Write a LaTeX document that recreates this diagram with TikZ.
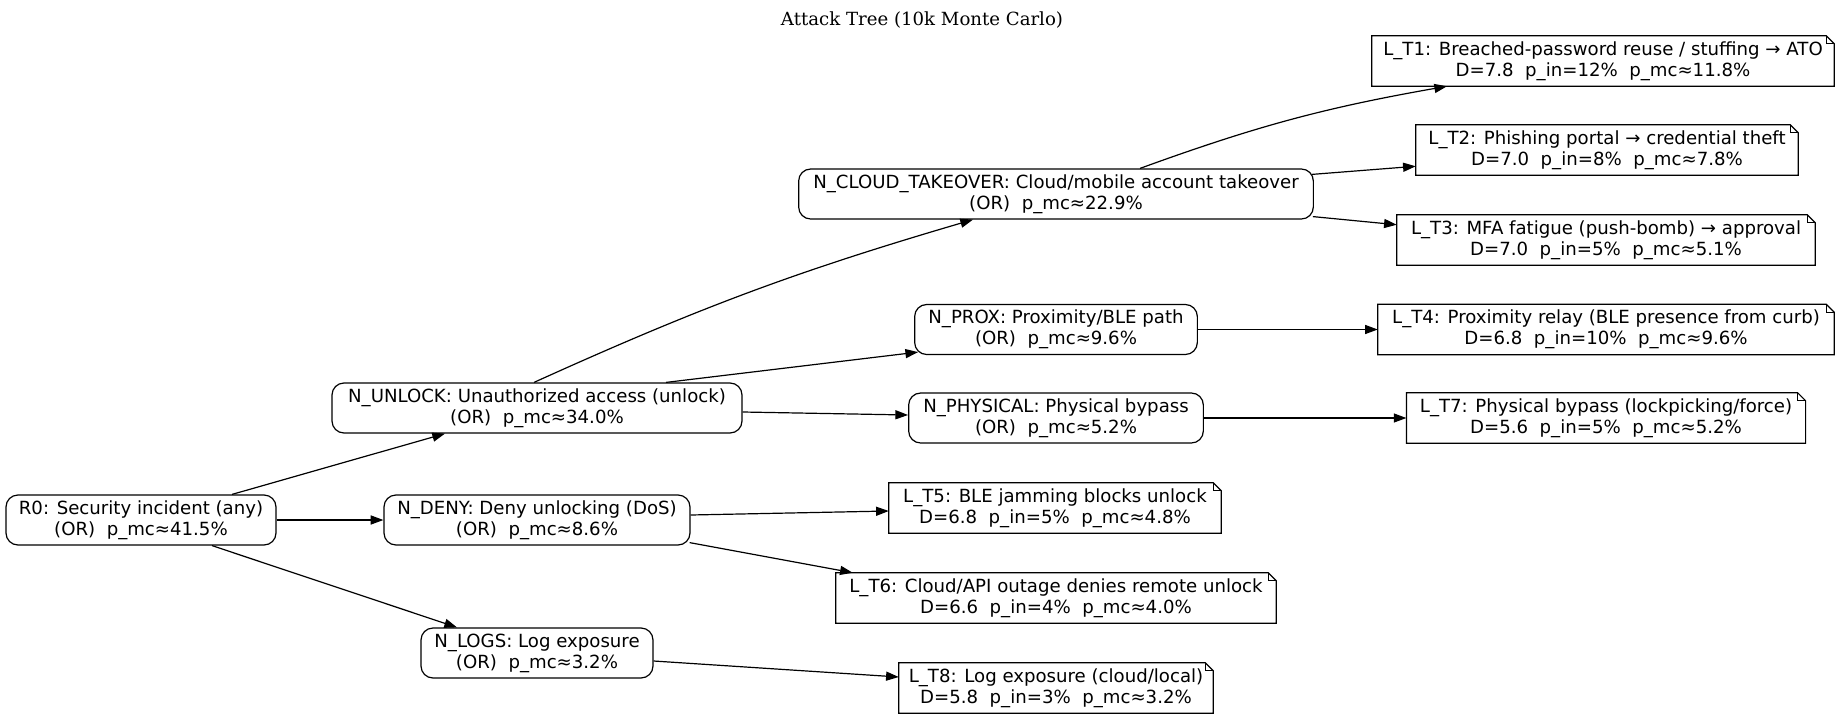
\documentclass[tikz,border=0pt]{standalone}
\usepackage{fontspec}
\setmainfont{DejaVu Sans}
\newfontfamily\titlefont{DejaVu Serif}
\usetikzlibrary{calc,arrows.meta}
\begin{document}
\begin{tikzpicture}[x=0.75pt,y=-0.75pt,
  base/.style={font=\fontsize{13.6}{15.75}\selectfont, align=center, inner sep=0pt, minimum height=37.5pt},
  gate/.style={base, draw, rounded corners=9pt, line width=0.9pt},
  leaf/.style={base},
  edge/.style={line width=0.9pt, -{Triangle[length=9.5pt,width=6.8pt]}},
  fold/.style={line width=0.9pt, line join=miter}
]
\useasboundingbox (0,0) rectangle (1847,717);
\node[font=\titlefont\fontsize{13.6}{15.75}\selectfont] (title) at (922,20) {Attack Tree (10k Monte Carlo)};

\node[gate, minimum width=202.5pt] (r0) at (141,520) {R0: Security incident (any)\\(OR)\ \ p\_mc≈41.5\%};
\node[gate, minimum width=307.5pt] (unlock) at (537,408) {N\_UNLOCK: Unauthorized access (unlock)\\(OR)\ \ p\_mc≈34.0\%};
\node[gate, minimum width=229.5pt] (deny) at (537,520) {N\_DENY: Deny unlocking (DoS)\\(OR)\ \ p\_mc≈8.6\%};
\node[gate, minimum width=174pt] (logs) at (537,653) {N\_LOGS: Log exposure\\(OR)\ \ p\_mc≈3.2\%};

\node[gate, minimum width=386pt] (cloud) at (1056,194) {N\_CLOUD\_TAKEOVER: Cloud/mobile account takeover\\(OR)\ \ p\_mc≈22.9\%};
\node[gate, minimum width=212pt] (prox) at (1056,329.5) {N\_PROX: Proximity/BLE path\\(OR)\ \ p\_mc≈9.6\%};
\node[gate, minimum width=221pt] (phys) at (1056,418) {N\_PHYSICAL: Physical bypass\\(OR)\ \ p\_mc≈5.2\%};
\node[leaf, minimum width=249pt] (t5) at (1055,508) {L\_T5: BLE jamming blocks unlock\\D=6.8\ \ p\_in=5\%\ \ p\_mc≈4.8\%};
\node[leaf, minimum width=330pt] (t6) at (1056,598) {L\_T6: Cloud/API outage denies remote unlock\\D=6.6\ \ p\_in=4\%\ \ p\_mc≈4.0\%};
\node[leaf, minimum width=235.5pt] (t8) at (1056,688) {L\_T8: Log exposure (cloud/local)\\D=5.8\ \ p\_in=3\%\ \ p\_mc≈3.2\%};

\node[leaf, minimum width=346.5pt] (t1) at (1603,61) {L\_T1: Breached-password reuse / stuffing → ATO\\D=7.8\ \ p\_in=12\%\ \ p\_mc≈11.8\%};
\node[leaf, minimum width=286.5pt] (t2) at (1607,150) {L\_T2: Phishing portal → credential theft\\D=7.0\ \ p\_in=8\%\ \ p\_mc≈7.8\%};
\node[leaf, minimum width=313.5pt] (t3) at (1606,240) {L\_T3: MFA fatigue (push-bomb) → approval\\D=7.0\ \ p\_in=5\%\ \ p\_mc≈5.1\%};
\node[leaf, minimum width=342pt] (t4) at (1606,329.5) {L\_T4: Proximity relay (BLE presence from curb)\\D=6.8\ \ p\_in=10\%\ \ p\_mc≈9.6\%};
\node[leaf, minimum width=299pt] (t7) at (1606,418) {L\_T7: Physical bypass (lockpicking/force)\\D=5.6\ \ p\_in=5\%\ \ p\_mc≈5.2\%};

\foreach \n in {t1,t2,t3,t4,t5,t6,t7,t8}{
  \draw[fold] (\n.south west) -- (\n.north west) -- ($(\n.north east)+(-8,0)$) -- ($(\n.north east)+(0,8)$) -- (\n.south east) -- cycle;
  \draw[fold] ($(\n.north east)+(-8,0)$) -- ($(\n.north east)+(-8,8)$) -- ($(\n.north east)+(0,8)$);
}

\draw[edge] ($(r0.north)+(91,0)$) -- ($(unlock.south)+(-92,0)$);
\draw[edge] (r0.east) -- (deny.west);
\draw[edge] ($(r0.south)+(71,0)$) -- ($(logs.north)+(-80,0)$);

\draw[edge] ($(unlock.north)+(-3,0)$) to[bend left=4] ($(cloud.south)+(-83,0)$);
\draw[edge] ($(unlock.north)+(129,0)$) -- ($(prox.south west)+(4,-3)$);
\draw[edge] ($(unlock.east)+(0,4)$) -- ($(phys.west)+(0,-3)$);

\draw[edge] ($(deny.east)+(0,-5)$) -- ($(t5.west)+(0,3)$);
\draw[edge] ($(deny.south east)+(-1,-3)$) -- ($(t6.north west)+(17,0)$);
\draw[edge] ($(logs.east)+(0,8)$) -- ($(t8.west)+(0,-11)$);

\draw[edge] ($(cloud.north)+(84,0)$) to[bend left=5] ($(t1.south)+(-156,0)$);
\draw[edge] ($(cloud.north east)+(-2,6)$) -- ($(t2.south west)+(0,-9)$);
\draw[edge] ($(cloud.south east)+(-1,-3)$) -- ($(t3.north west)+(0,10)$);
\draw[edge] (prox.east) -- (t4.west);
\draw[edge] (phys.east) -- (t7.west);
\end{tikzpicture}
\end{document}
